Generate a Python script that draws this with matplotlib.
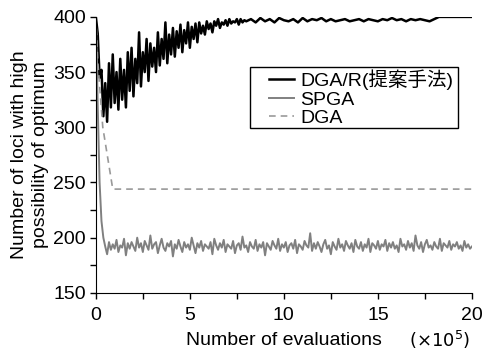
import numpy as np
import matplotlib.pyplot as plt
from matplotlib.patches import Rectangle

plt.rcParams['font.family'] = ['Liberation Sans', 'Noto Sans CJK JP', 'DejaVu Sans']

# DGA/R (proposed method): dense part 0..8 step 0.1, then 8..20 step 0.25
dgar_x1 = np.round(np.arange(0, 8.01, 0.1), 2)
dgar_y1 = [400, 385, 345, 352, 310, 340, 305, 358, 318, 366,
           322, 350, 316, 362, 325, 352, 318, 368, 333, 372,
           328, 362, 340, 386, 337, 368, 350, 380, 342, 376,
           355, 372, 350, 386, 356, 380, 362, 395, 358, 384,
           366, 390, 364, 387, 372, 393, 368, 388, 376, 395,
           372, 391, 380, 394, 377, 395, 385, 392, 384, 396,
           389, 394, 386, 396, 392, 398, 390, 395, 393, 397,
           392, 398, 394, 396, 395, 398, 393, 398, 395, 397,
           396]
dgar_x2 = np.round(np.arange(8.25, 20.01, 0.25), 2)
dgar_y2 = [398, 395, 399, 396, 398, 395, 399, 397, 396, 398,
           395, 399, 396, 398, 397, 399, 396, 398, 396, 397,
           398, 396, 397, 398, 396, 398, 397, 396, 398, 397,
           399, 397, 398, 396, 398, 397, 398, 397, 396, 398,
           400, 400, 400, 400, 400, 400, 400, 400]

# SPGA: step 0.1 over 0..20
spga_x = np.round(np.arange(0, 20.01, 0.1), 2)
spga_y = [400, 320, 250, 215, 200, 192, 185, 196, 189, 194,
          190, 198, 187, 193, 191, 199, 184, 195, 190, 196,
          192, 188, 200, 191, 195, 187, 197, 193, 189, 202,
          190, 194, 196, 186, 193, 199, 191, 188, 195, 192,
          197, 183, 194, 190, 198, 192, 187, 196, 191, 194,
          189, 200, 193, 186, 195, 191, 197, 188, 194, 192,
          190, 196, 185, 199, 193, 189, 195, 191, 198, 187,
          194, 192, 190, 197, 186, 193, 195, 189, 201, 191,
          193, 187, 196, 192, 190, 198, 188, 194, 191, 196,
          184, 195, 192, 189, 197, 193, 190, 199, 188, 194,
          191, 196, 187, 193, 195, 190, 198, 186, 194, 192,
          189, 197, 193, 191, 204, 188, 195, 190, 196, 192,
          187, 194, 198, 190, 193, 185, 196, 192, 189, 199,
          191, 194, 188, 197, 193, 190, 195, 187, 198, 192,
          190, 196, 188, 194, 191, 199, 187, 195, 193, 190,
          197, 189, 194, 192, 198, 188, 195, 191, 196, 190,
          193, 187, 199, 192, 194, 189, 197, 191, 195, 188,
          202, 193, 190, 196, 187, 194, 198, 191, 193, 189,
          196, 192, 190, 199, 188, 195, 193, 191, 197, 189,
          194, 192, 196, 190, 193, 188, 197, 191, 194, 190,
          192]

# DGA
dga_x = [0, 0.1, 0.37, 0.9, 2, 3, 4, 5, 6, 7, 8, 9, 10, 11, 12, 13, 14, 15, 16, 17, 18, 19, 20]
dga_y = [400, 360, 300, 244, 244, 244, 244, 244, 244, 244, 244, 244, 244, 244, 244, 244, 244, 244, 244, 244, 244, 244, 244]

fig = plt.figure(figsize=(4.84, 3.52), dpi=100)
ax = fig.add_axes([0.198, 0.168, 0.777, 0.784])

ax.plot(np.concatenate([dgar_x1, dgar_x2]), dgar_y1 + dgar_y2, color='black', lw=1.8,
        label='DGA/R(提案手法)')
ax.plot(spga_x, spga_y, color='#808080', lw=1.4, label='SPGA')
ax.plot(dga_x, dga_y, color='#999999', lw=1.2, dashes=(4, 3), label='DGA')

ax.set_xlim(0, 20)
ax.set_ylim(150, 400)
ax.set_xticks([0, 5, 10, 15, 20])
ax.set_xticks([2.5, 7.5, 12.5, 17.5], minor=True)
ax.set_yticks([150, 200, 250, 300, 350, 400])
ax.set_yticks([175, 225, 275, 325, 375], minor=True)
ax.spines['top'].set_visible(False)
ax.spines['right'].set_visible(False)
ax.tick_params(which='both', direction='out', length=4, width=1, labelsize=14)
ax.tick_params(axis='x', pad=6)
ax.tick_params(axis='y', pad=3)

ax.set_xlabel('Number of evaluations', fontsize=14, labelpad=6)
ax.set_ylabel('Number of loci with high\npossibility of optimum', fontsize=14,
              linespacing=1.3, labelpad=3)
fig.text(0.972, 0.015, r'$(\times 10^5)$', ha='right', fontsize=13)

# legend with a hand-drawn square frame (wide left margin as in the original)
leg = ax.legend(loc='upper left', bbox_to_anchor=(0.556, 0.803),
                bbox_transform=fig.transFigure, fontsize=14, frameon=False,
                handlelength=1.3, borderpad=0, labelspacing=0.05,
                handletextpad=0.3, borderaxespad=0)
fig.add_artist(Rectangle((0.5165, 0.636), 0.4298, 0.1733, transform=fig.transFigure,
                         fill=False, edgecolor='black', lw=1.0))

fig.savefig('out.png', dpi=100)
